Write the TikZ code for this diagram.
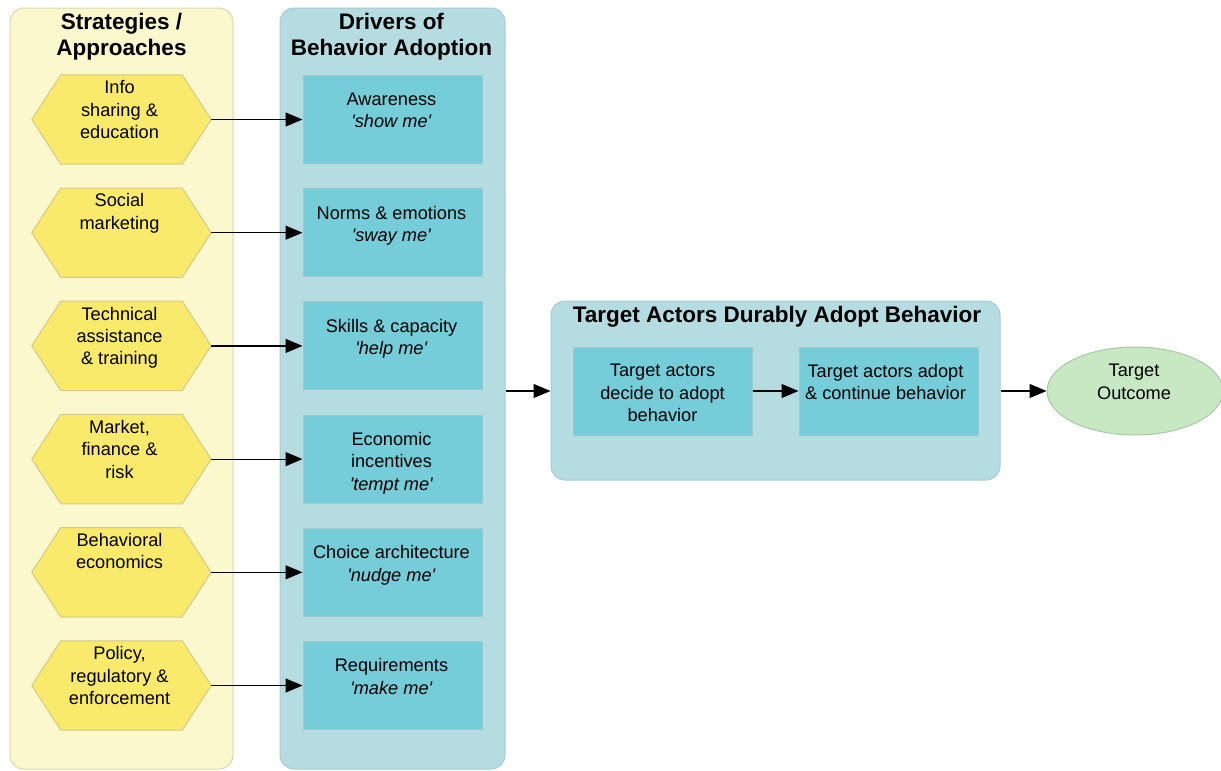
\documentclass[tikz,border=0pt]{standalone}
\usepackage{fontspec}
\setmainfont{Liberation Sans}[Ligatures=TeXOff]
\usetikzlibrary{arrows.meta,shapes.geometric}

\definecolor{ypanel}{HTML}{FCF8CD}
\definecolor{yline}{HTML}{D9D5B0}
\definecolor{hexfill}{HTML}{F9EA6C}
\definecolor{hexline}{HTML}{D3CA8C}
\definecolor{bpanel}{HTML}{B5DDE1}
\definecolor{bline}{HTML}{A5CBD0}
\definecolor{boxfill}{HTML}{74CDD9}
\definecolor{boxline}{HTML}{9CC9CE}
\definecolor{outfill}{HTML}{C8E8C4}
\definecolor{outline}{HTML}{A9C9A6}

\newcommand\bodyfont{\fontsize{18.2}{22.4}\selectfont}
\newcommand\headfont{\fontsize{22.5}{26}\selectfont\bfseries}

\begin{document}
\begin{tikzpicture}[x=1pt,y=-1pt,
  panel/.style={rectangle,rounded corners=14pt,line width=1pt,inner sep=0pt},
  head/.style={font=\headfont,align=center,inner sep=0pt},
  hexcell/.style={rectangle,minimum width=179pt,minimum height=89pt,inner sep=0pt},
  hexshape/.style={fill=hexfill,draw=hexline,line width=1pt},
  drvbox/.style={rectangle,fill=boxfill,draw=boxline,line width=1pt,
    minimum width=179pt,minimum height=88pt,inner sep=0pt},
  toptext/.style={font=\bodyfont,align=center,inner sep=0pt,anchor=north},
  outcome/.style={ellipse,fill=outfill,draw=outline,line width=1pt,
    minimum width=176pt,minimum height=88pt,inner sep=0pt},
  arr/.style={line width=1.2pt,-{Triangle[length=17pt,width=14pt]}}
]
\useasboundingbox (0,0) rectangle (1221,771);

% column panels
\node[panel,fill=ypanel,draw=yline,minimum width=223pt,minimum height=761pt]
  (spanel) at (121.5,388.5) {};
\node[panel,fill=bpanel,draw=bline,minimum width=225pt,minimum height=761pt]
  (dpanel) at (392.5,388.5) {};
\node[panel,fill=bpanel,draw=bline,minimum width=449pt,minimum height=179pt]
  (apanel) at (775.5,390.5) {};

% panel headings
\node[head] (shead) at (121.5,37) {Strategies /\\Approaches};
\node[head] (dhead) at (391.5,37) {Drivers of\\Behavior Adoption};
\node[head] (ahead) at (777,317) {Target Actors Durably Adopt Behavior};

% strategies (hexagons) and drivers (boxes)
\foreach \i/\stxt/\dtxt in {
  1/{Info\\sharing \&\\education}/{Awareness\\\textit{'show me'}},
  2/{Social\\marketing}/{Norms \& emotions\\\textit{'sway me'}},
  3/{Technical\\assistance\\\& training}/{Skills \& capacity\\\textit{'help me'}},
  4/{Market,\\finance \&\\risk}/{Economic\\incentives\\\textit{'tempt me'}},
  5/{Behavioral\\economics}/{Choice architecture\\\textit{'nudge me'}},
  6/{Policy,\\regulatory \&\\enforcement}/{Requirements\\\textit{'make me'}}}{
  \pgfmathsetmacro\yy{119.5+113.2*(\i-1)}
  \node[hexcell] (s\i) at (121.5,\yy) {};
  \draw[hexshape] (s\i.west) -- ([xshift=29pt]s\i.north west)
    -- ([xshift=-29pt]s\i.north east) -- (s\i.east)
    -- ([xshift=-29pt]s\i.south east) -- ([xshift=29pt]s\i.south west) -- cycle;
  \node[toptext] (st\i) at ([xshift=-2pt,yshift=-5.5pt]s\i.north) {\stxt};
  \node[drvbox] (d\i) at (392.5,\yy) {};
  \node[toptext] (dt\i) at ([xshift=-1pt,yshift=-17.5pt]d\i.north) {\dtxt};
  \draw[arr] (s\i.east) -- (d\i.west);
}

% adoption steps
\node[drvbox] (a1) at (662.5,391) {};
\node[toptext] (at1) at ([yshift=-17.5pt]a1.north) {Target actors\\decide to adopt\\behavior};
\node[drvbox] (a2) at (888.5,391) {};
\node[toptext] (at2) at ([xshift=-3pt,yshift=-17.5pt]a2.north) {Target actors adopt\\\& continue behavior};

% outcome
\node[outcome] (out) at (1135,391) {};
\node[toptext] (ot) at ([xshift=-1pt,yshift=-17.5pt]out.north) {Target\\Outcome};

% connectors between stages
\draw[arr] (dpanel.east |- a1.west) -- (apanel.west |- a1.west);
\draw[arr] (a1.east) -- (a2.west);
\draw[arr] (apanel.east |- a2.east) -- (out.west);
\end{tikzpicture}
\end{document}
